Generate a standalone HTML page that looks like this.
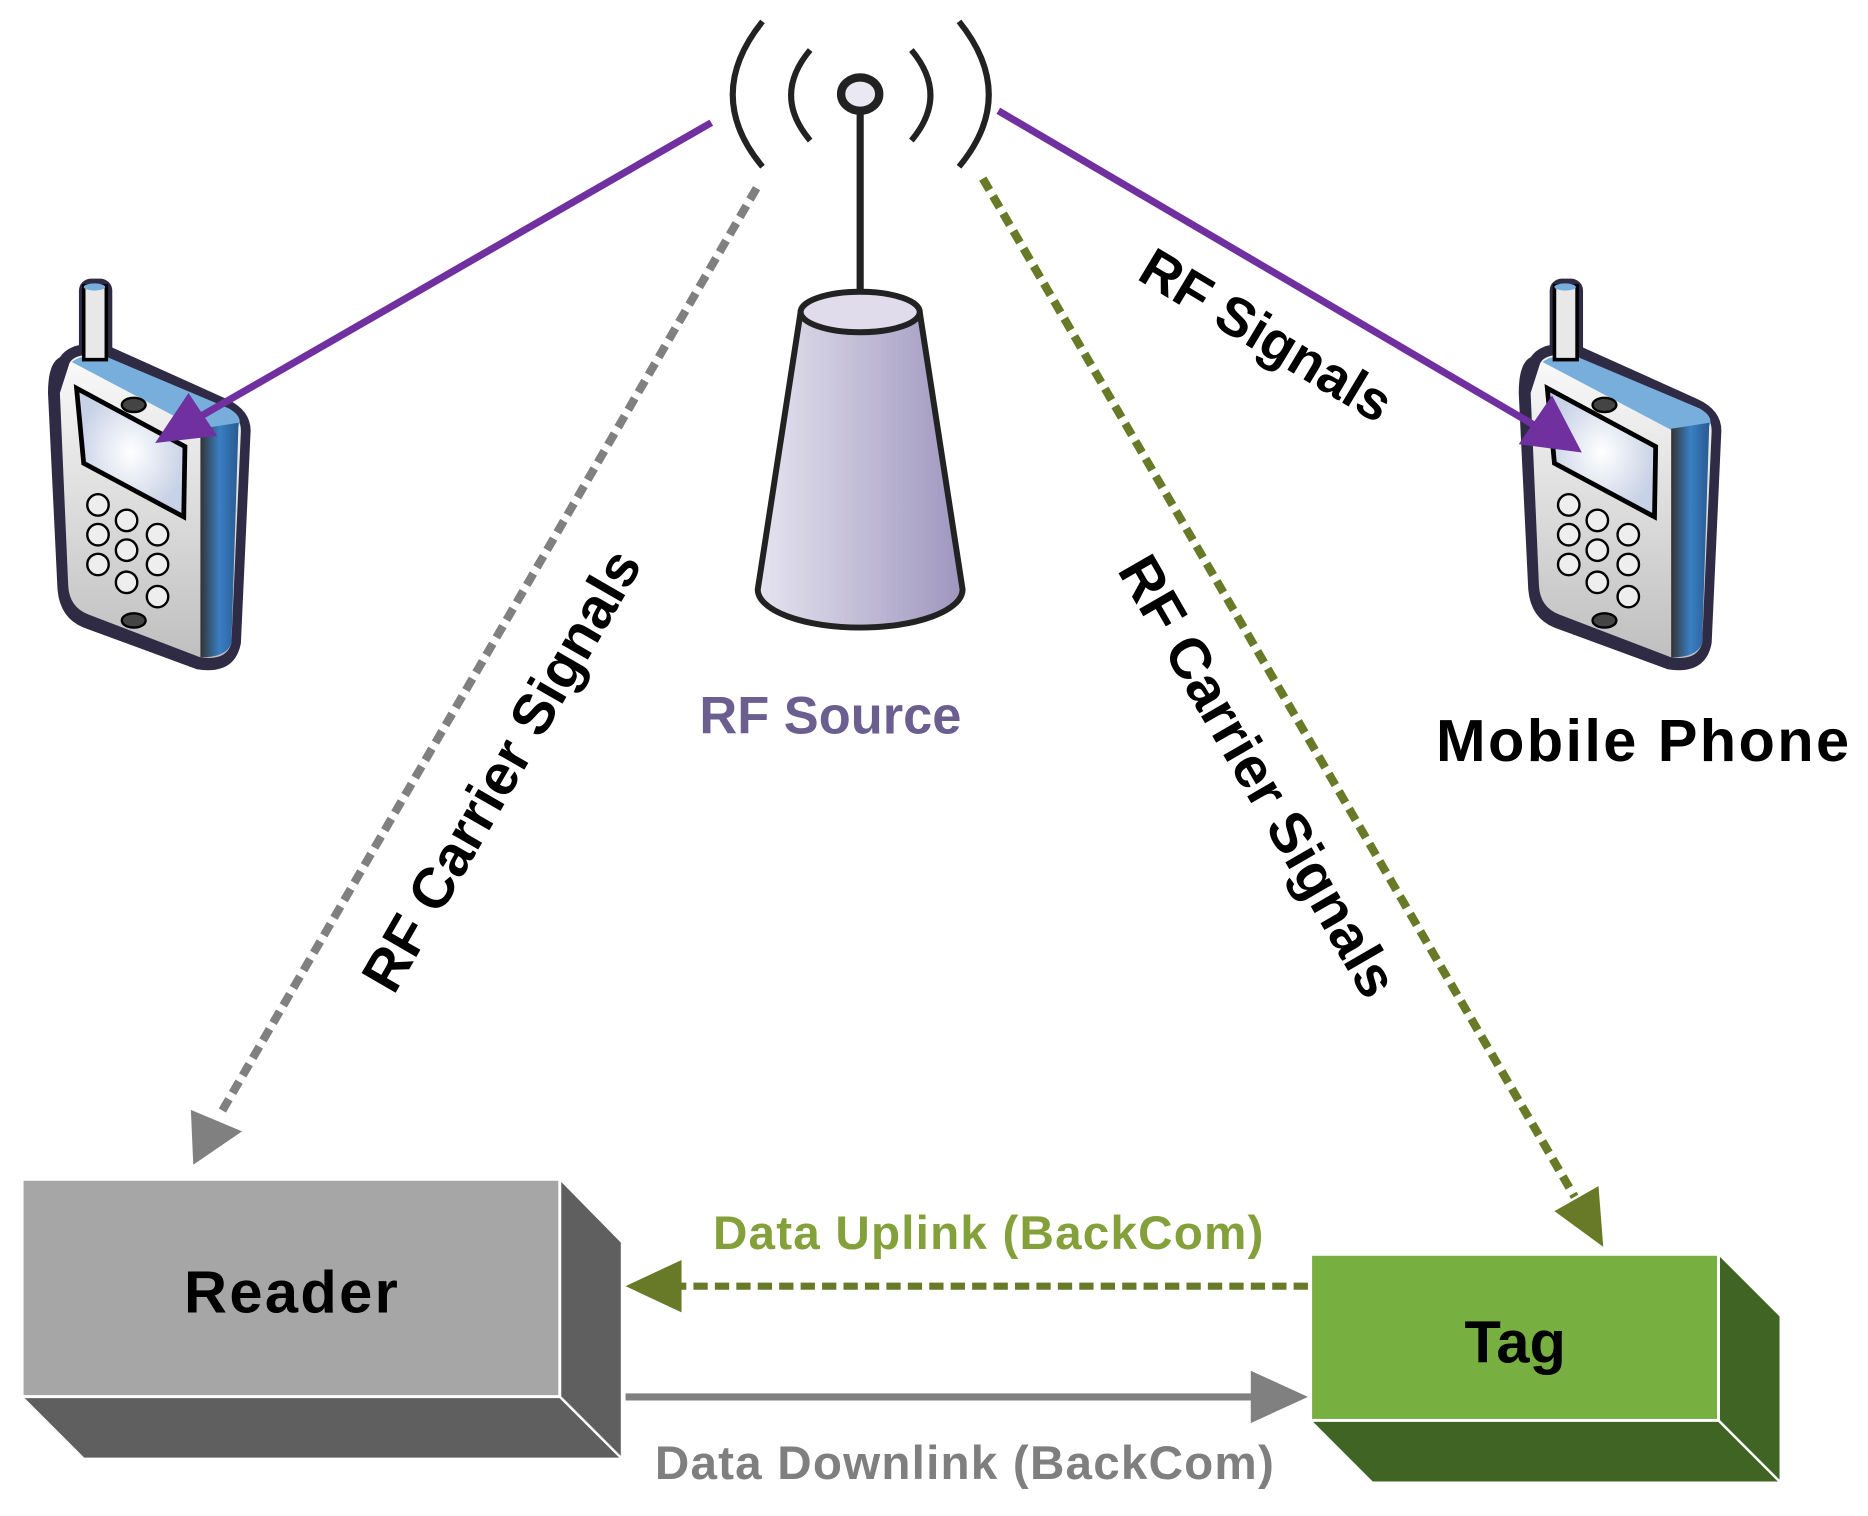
<!DOCTYPE html>
<html><head><meta charset="utf-8"><style>
html,body{margin:0;padding:0;background:#fff;}
svg{display:block;}
text{font-family:"Liberation Sans",sans-serif;font-weight:bold;}
</style></head><body>
<svg width="1868" height="1516" viewBox="0 0 1568 1273" xmlns="http://www.w3.org/2000/svg">
<defs>
<linearGradient id="tw" x1="0" x2="1" y1="0" y2="0"><stop offset="0" stop-color="#e6e4f0"/><stop offset="1" stop-color="#9e96be"/></linearGradient>
<linearGradient id="face" x1="0" x2="0" y1="0" y2="1"><stop offset="0" stop-color="#fafafa"/><stop offset="1" stop-color="#bfbfbf"/></linearGradient>
<linearGradient id="side" x1="0" x2="1"><stop offset="0" stop-color="#333"/><stop offset="0.5" stop-color="#3a7fc4"/><stop offset="1" stop-color="#2a5a90"/></linearGradient>
<radialGradient id="scr"><stop offset="0" stop-color="#fff"/><stop offset="1" stop-color="#c8d2e6"/></radialGradient>
<g id="phone">
  <rect x="66" y="234" width="28" height="75" rx="10" fill="#2f2b45"/>
  <path d="M50,300 Q60,285 90,290 L190,335 Q212,345 210,365 L202,540 Q197,567 165,562 L70,527 Q50,519 48,495 L40,330 Q40,305 50,300 Z" fill="#2f2b45"/>
  <path d="M58,305 Q62,297 80,298 L192,345 Q202,350 202,362 L194,540 Q190,555 168,552 L74,516 Q58,510 57,492 L50,330 Z" fill="url(#face)"/>
  <path d="M60,304 Q70,296 90,300 L192,343 Q204,350 200,358 L170,362 Z" fill="#78aedc"/>
  <path d="M168,360 L200,355 L194,540 Q190,552 168,552 Z" fill="url(#side)"/>
  <rect x="70" y="240" width="19" height="62" fill="#e8e8e8" stroke="#000" stroke-width="3"/>
  <ellipse cx="79" cy="241" rx="9" ry="3" fill="#78aedc"/>
  <polygon points="64,326 155,375 154,434 70,389" fill="url(#scr)" stroke="#000" stroke-width="4"/>
  <ellipse cx="112" cy="340" rx="10" ry="6" fill="#444" stroke="#000" stroke-width="2"/>
  <ellipse cx="112" cy="521" rx="10" ry="6" fill="#444" stroke="#000" stroke-width="2"/>
  <g fill="#eee" stroke="#000" stroke-width="2">
    <circle cx="82" cy="424" r="9"/><circle cx="82" cy="449" r="9"/><circle cx="82" cy="474" r="9"/>
    <circle cx="106" cy="437" r="9"/><circle cx="106" cy="462" r="9"/><circle cx="106" cy="489" r="9"/>
    <circle cx="132" cy="449" r="9"/><circle cx="132" cy="474" r="9"/><circle cx="132" cy="501" r="9"/>
  </g>
</g>
</defs>

<use href="#phone"/>
<use href="#phone" transform="translate(1235,0)"/>

<!-- antenna -->
<g fill="none" stroke="#222" stroke-width="5">
  <path d="M640,18 Q590,80 640,140"/><path d="M680,42 Q648,80 680,118"/>
  <path d="M805,18 Q855,80 805,140"/><path d="M765,42 Q797,80 765,118"/>
</g>
<line x1="722" y1="93" x2="722" y2="255" stroke="#222" stroke-width="6"/>
<ellipse cx="722" cy="79" rx="16" ry="14" fill="#eae8f2" stroke="#222" stroke-width="7"/>
<!-- tower -->
<path d="M672,262 L636,495 A86,32 0 0 0 808,495 L772,262 Z" fill="url(#tw)" stroke="#222" stroke-width="5"/>
<ellipse cx="722" cy="262" rx="50" ry="17" fill="#e0dcec" stroke="#222" stroke-width="5"/>

<!-- purple lines -->
<line x1="597" y1="103" x2="150" y2="360" stroke="#7030a0" stroke-width="6"/>
<polygon points="130,372 158,330 182,366" fill="#7030a0"/>
<line x1="838" y1="93" x2="1305" y2="367" stroke="#7030a0" stroke-width="6"/>
<polygon points="1328,380 1275,373 1303,332" fill="#7030a0"/>

<!-- dashed lines -->
<line x1="635" y1="158" x2="185" y2="935" stroke="#808080" stroke-width="7" stroke-dasharray="11,6"/>
<polygon points="162,978 160,932 203,950" fill="#808080"/>
<line x1="825" y1="150" x2="1322" y2="1005" stroke="#687a28" stroke-width="7" stroke-dasharray="11,6"/>
<polygon points="1346,1047 1305,1017 1342,996" fill="#687a28"/>

<!-- reader -->
<rect x="18" y="990" width="452" height="183" fill="#a6a6a6" stroke="#fff" stroke-width="3"/>
<polygon points="470,990 522,1043 522,1225 470,1173" fill="#5f5f5f" stroke="#fff" stroke-width="2"/>
<polygon points="18,1173 470,1173 522,1225 70,1225" fill="#5f5f5f" stroke="#fff" stroke-width="2"/>
<text x="245" y="1102" font-size="50" letter-spacing="2" text-anchor="middle" fill="#000">Reader</text>
<!-- tag -->
<rect x="1100" y="1053" width="343" height="140" fill="#77b040" stroke="#fff" stroke-width="3"/>
<polygon points="1443,1053 1495,1105 1495,1245 1443,1193" fill="#3f6423" stroke="#fff" stroke-width="2"/>
<polygon points="1100,1193 1443,1193 1495,1245 1152,1245" fill="#3f6423" stroke="#fff" stroke-width="2"/>
<text x="1272" y="1144" font-size="50" text-anchor="middle" fill="#000">Tag</text>

<!-- links -->
<line x1="1098" y1="1080" x2="565" y2="1080" stroke="#687a28" stroke-width="6" stroke-dasharray="12,6"/>
<polygon points="525,1080 572,1058 572,1102" fill="#687a28"/>
<line x1="525" y1="1173" x2="1055" y2="1173" stroke="#808080" stroke-width="6"/>
<polygon points="1098,1173 1050,1151 1050,1195" fill="#808080"/>
<text x="830" y="1049" font-size="40" letter-spacing="1" text-anchor="middle" fill="#84a03a">Data Uplink (BackCom)</text>
<text x="810" y="1242" font-size="40" letter-spacing="1" text-anchor="middle" fill="#7f7f7f">Data Downlink (BackCom)</text>

<text x="697" y="616" font-size="44" text-anchor="middle" fill="#6a5f8f">RF Source</text>
<text x="1380" y="639" font-size="50" letter-spacing="2" text-anchor="middle" fill="#000">Mobile Phone</text>
<text transform="translate(1055,295) rotate(31)" font-size="46" text-anchor="middle" fill="#000">RF Signals</text>
<text transform="translate(435,655) rotate(-60)" font-size="48" text-anchor="middle" fill="#000">RF Carrier Signals</text>
<text transform="translate(1042,660) rotate(60)" font-size="48" text-anchor="middle" fill="#000">RF Carrier Signals</text>
</svg>
</body></html>
